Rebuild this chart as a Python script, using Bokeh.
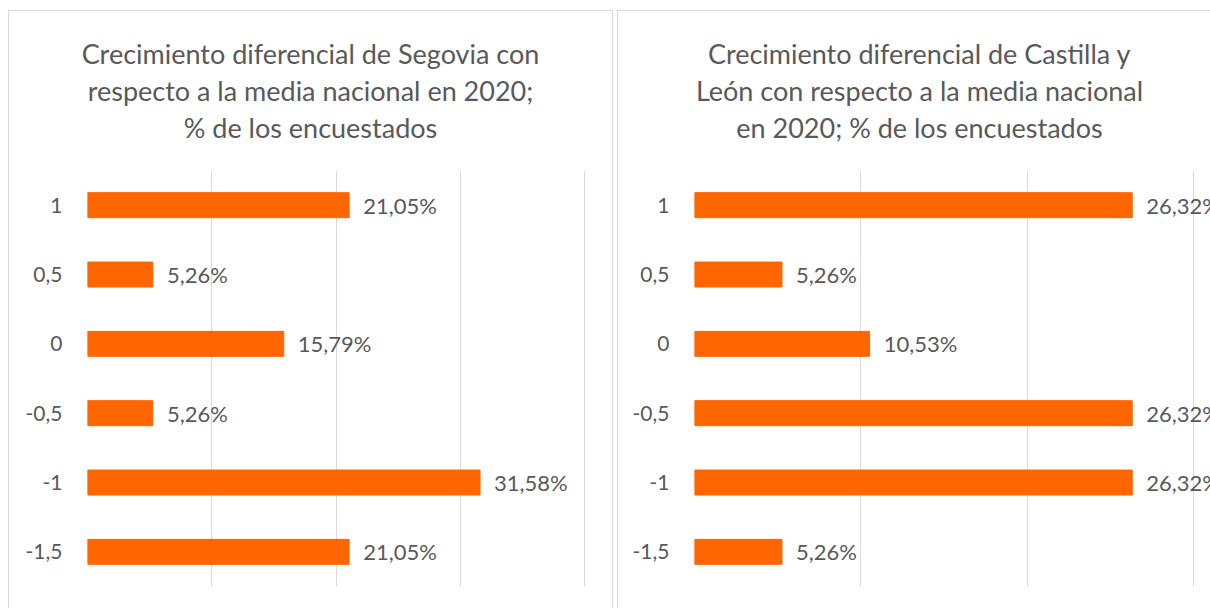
from bokeh.plotting import figure
from bokeh.models import ColumnDataSource, FactorRange, Range1d, FixedTicker
from bokeh.layouts import row, column
from bokeh.core.properties import value
from bokeh.embed import file_html
from bokeh.resources import INLINE

# ---- data ----
categories = ["1", "0,5", "0", "-0,5", "-1", "-1,5"]
segovia_pct = [21.05, 5.26, 15.79, 5.26, 31.58, 21.05]
cyl_pct = [26.32, 5.26, 10.53, 26.32, 26.32, 5.26]
title_left = ["Crecimiento diferencial de Segovia con",
              "respecto a la media nacional en 2020;",
              "% de los encuestados"]
title_right = ["Crecimiento diferencial de Castilla y",
               "León con respecto a la media nacional",
               "en 2020; % de los encuestados"]
ticks_left = [0, 10, 20, 30, 40]
ticks_right = [0, 10, 20, 30]

FONT = "Lato"
TXT = "#595959"
GRID = "#d9d9d9"
BAR = "#FF6600"
BORDER = "1px solid #d9d9d9"


def fmt(v):
    return f"{v:.2f}%".replace(".", ",")


def title_fig(lines, width, height, cx, line_y, margin, css):
    t = figure(width=width, height=height,
               x_range=Range1d(0, width), y_range=Range1d(0, height - 1),
               x_axis_location=None, y_axis_location=None,
               output_backend="svg", toolbar_location=None,
               min_border_left=0, min_border_right=0,
               min_border_top=0, min_border_bottom=0,
               margin=margin, styles=css)
    t.grid.visible = False
    t.outline_line_color = None
    src = ColumnDataSource(dict(x=[cx] * len(lines), y=line_y, t=lines))
    t.text(x="x", y="y", text="t", source=src, text_align="center",
           text_baseline="middle", text_font=value(FONT),
           text_font_size="27px", text_color=TXT)
    return t


def chart_fig(vals, ticks, xr, width, height, mb_left, mb_right, margin, css):
    src = ColumnDataSource(dict(cat=categories, v=vals, lab=[fmt(v) for v in vals]))
    p = figure(width=width, height=height,
               x_range=xr,
               y_range=FactorRange(factors=list(reversed(categories))),
               output_backend="svg", toolbar_location=None,
               min_border_left=mb_left, min_border_right=mb_right,
               min_border_top=0, min_border_bottom=22,
               margin=margin, styles=css)
    p.outline_line_color = None
    p.hbar(y="cat", left=0, right="v", height=0.36, color=BAR, source=src)
    p.text(x="v", y="cat", text="lab", source=src, x_offset=14,
           text_baseline="middle", text_align="left",
           text_font=value(FONT), text_font_size="22px", text_color=TXT)
    p.xaxis.visible = False
    p.xgrid.ticker = FixedTicker(ticks=ticks)
    p.xgrid.grid_line_color = GRID
    p.xgrid.grid_line_width = 1
    p.ygrid.grid_line_color = None
    ax = p.yaxis[0]
    ax.axis_line_color = None
    ax.major_tick_line_color = None
    ax.major_tick_out = 0
    ax.major_tick_in = 0
    ax.major_label_standoff = 25
    ax.major_label_text_font = FONT
    ax.major_label_text_font_size = "21px"
    ax.major_label_text_color = TXT
    return p


# title rows: page y of line centres; title area spans page y 10..170
line_y = [170 - 53, 170 - 89.5, 170 - 126]

xr1 = Range1d(0, 500 / 12.38)
xr2 = Range1d(0, 516 / 16.6)

# title strips: canvas x measured from the panel's inner left edge (page x 9 / 618)
t1 = title_fig(title_left, 605, 160, 310 - 9, line_y, (10, 0, 0, 8),
               {"border-left": BORDER, "border-top": BORDER, "border-right": BORDER})
t2 = title_fig(title_right, 593, 160, 919 - 618, line_y, (10, 0, 0, 4),
               {"border-left": BORDER, "border-top": BORDER})
c1 = chart_fig(segovia_pct, ticks_left, xr1, 605, 438, 78, 25, (0, 0, 0, 8),
               {"border-left": BORDER, "border-right": BORDER})
c2 = chart_fig(cyl_pct, ticks_right, xr2, 593, 438, 76, 0, (0, 0, 0, 4),
               {"border-left": BORDER})

layout = column(row(t1, t2), row(c1, c2))
open("out.html", "w").write(file_html(layout, INLINE))
